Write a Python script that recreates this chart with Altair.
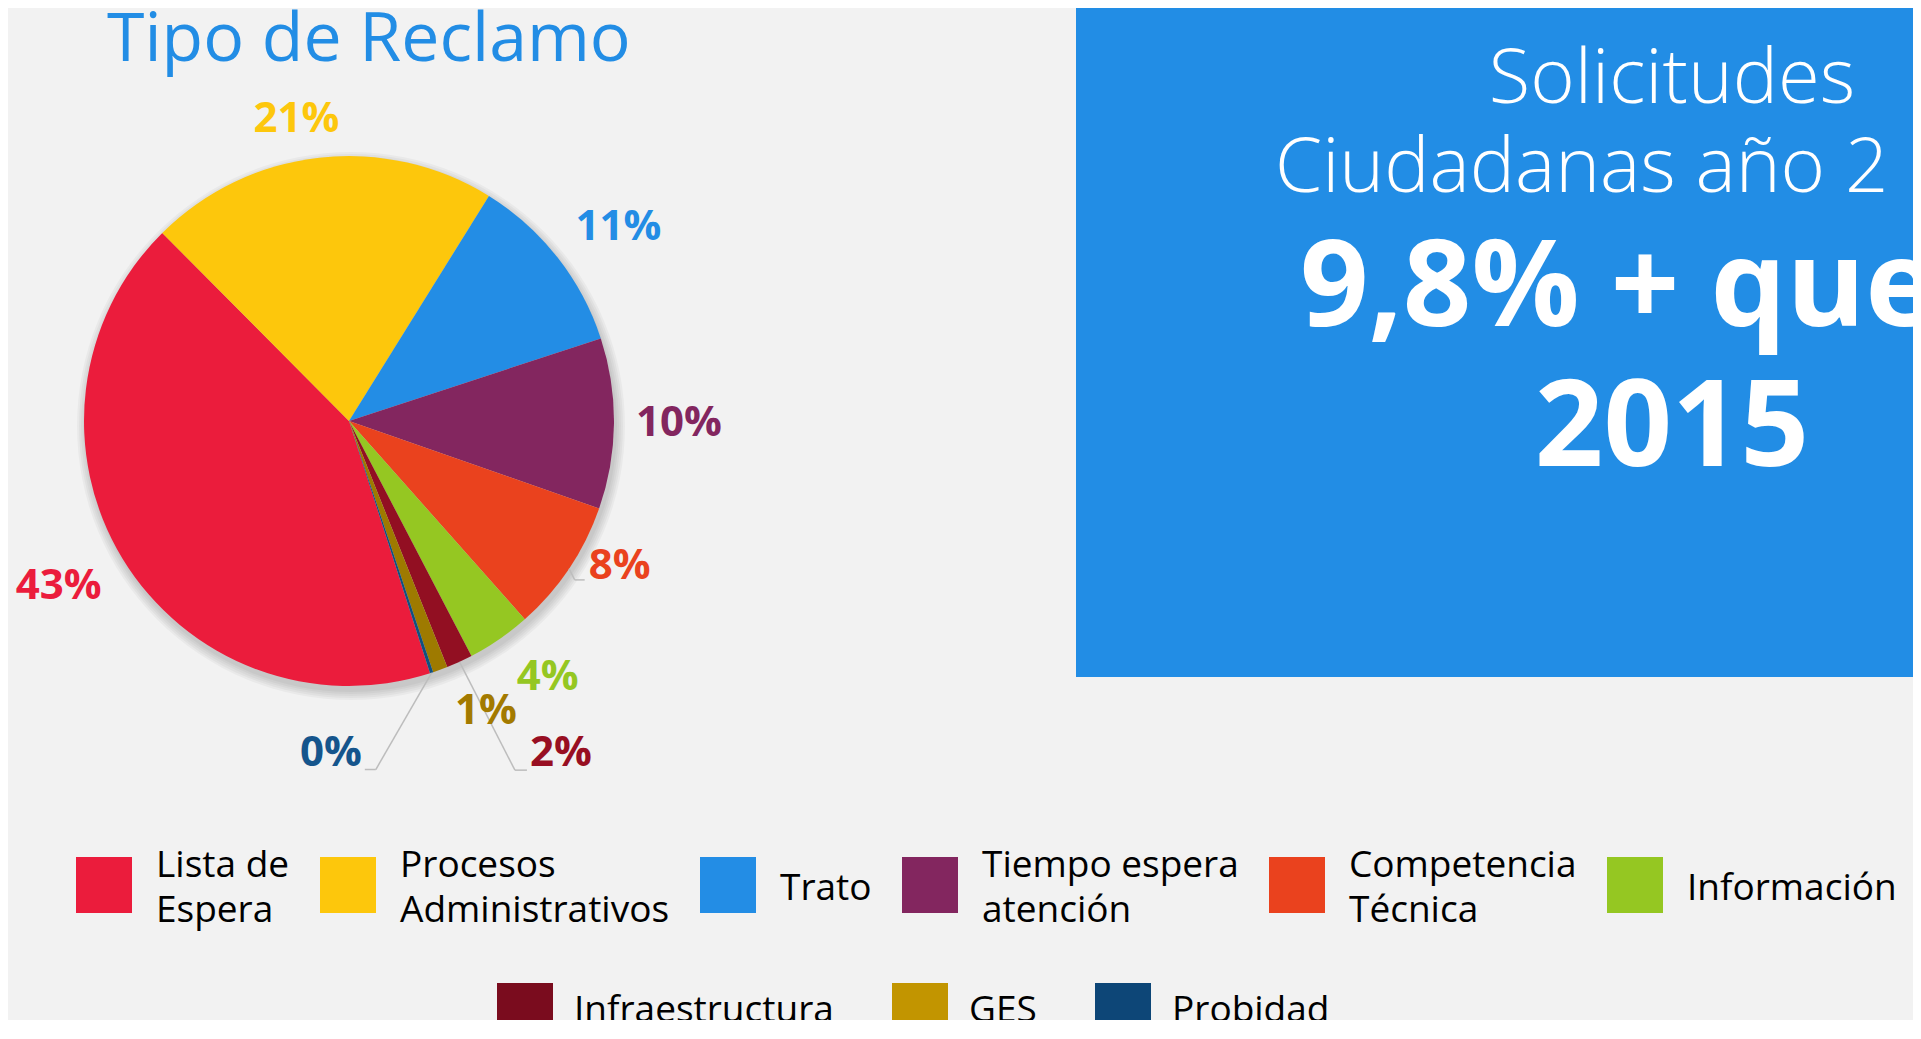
import json
import math
import altair as alt
import pandas as pd

# ---------------- data ----------------
CATEGORIES = [
    "Lista de Espera", "Procesos Administrativos", "Trato", "Tiempo espera atención",
    "Competencia Técnica", "Información", "Infraestructura", "GES", "Probidad",
]
VALUES = [42.5, 21.3, 11.1, 10.4, 8.1, 3.9, 1.6, 0.9, 0.2]
TITLE = "Tipo de Reclamo"
BOX_LINES = ["Solicitudes", "Ciudadanas año 2", "9,8% + que", "2015"]

# ---------------- styles ----------------
PIE_COLORS = ["#EB1C3C", "#FDC70C", "#238DE5", "#83265F", "#EA421E",
              "#95C722", "#920F22", "#9E7A00", "#11507F"]
LEGEND_COLORS = ["#EB1C3C", "#FDC70C", "#238DE5", "#83265F", "#EA421E",
                 "#95C722", "#7A0C1E", "#C29500", "#0D4677"]
LABEL_COLORS = ["#EB1C3C", "#FDC70C", "#238DE5", "#83265F", "#EA421E",
                "#95C722", "#980F22", "#A37A00", "#15558C"]
BG = "#F2F2F2"
BLUE = "#228DE5"
FONT = "Open Sans"

# ---------------- layout ----------------
W, H = 1905, 1012
CX, CY, R = 341, 413, 265
START_DEG = 162.2
LABEL_RADIUS = [334, 307, 332, 330, 307, 324, 394, 321, 332]
LABEL_SHIFT_DEG = [1.7, -3.4, 2.4, -0.2, -5.7, -3.3, -7.9, -5.1, 21.3]
# leader: (elbow dx, elbow dy, end dx) relative to label centre
LEADERS = {"Competencia Técnica": (-45, 14, -35),
           "Infraestructura": (-46, 17, -34),
           "Probidad": (45, 17, 34)}
# legend label wrapping on a half-line grid: blank (braille blank, non-whitespace) spacer lines
BLANK = "\u2800"
LEGEND_WRAP = {"Lista de Espera": ["Lista de", BLANK, "Espera"],
               "Procesos Administrativos": ["Procesos", BLANK, "Administrativos"],
               "Tiempo espera atención": ["Tiempo espera", BLANK, "atención"],
               "Competencia Técnica": ["Competencia", BLANK, "Técnica"]}
HALF_LINE = 22.5
SHADOW_RADII = [266, 268, 270, 272, 274]

start_rad = math.radians(START_DEG)
theta_scale = alt.Scale(domain=[0, 100], range=[start_rad, start_rad + 2 * math.pi])

df = pd.DataFrame({
    "category": CATEGORIES,
    "value": VALUES,
    "idx": list(range(len(CATEGORIES))),
    "label_r": LABEL_RADIUS,
    "shift_pct": [s / 3.6 for s in LABEL_SHIFT_DEG],
    "label_color": LABEL_COLORS,
})

# leader line segments derived from slice mid angles
segs = []
cum = 0.0
for cat, v, lr, sh in zip(CATEGORIES, VALUES, LABEL_RADIUS, LABEL_SHIFT_DEG):
    mid = START_DEG + 3.6 * (cum + v / 2)
    cum += v
    if cat not in LEADERS:
        continue
    a = math.radians(mid)
    sx, sy = CX + R * math.sin(a), CY - R * math.cos(a)
    b = math.radians(mid + sh)
    lx, ly = CX + lr * math.sin(b), CY - lr * math.cos(b)
    edx, edy, endx = LEADERS[cat]
    ex, ey = lx + edx, ly + edy
    segs.append({"x": sx, "y": sy, "x2": ex, "y2": ey})
    segs.append({"x": ex, "y": ey, "x2": lx + endx, "y2": ey})
seg_df = pd.DataFrame(segs)

one = pd.DataFrame({"k": [0]})

box = alt.Chart(one).mark_rect(color=BLUE).encode(
    x=alt.value(1068), x2=alt.value(W), y=alt.value(0), y2=alt.value(669))

title = alt.Chart(pd.DataFrame({"t": [TITLE]})).mark_text(
    font=FONT, fontSize=68, color=BLUE, align="left", baseline="alphabetic"
).encode(text="t:N", x=alt.value(99), y=alt.value(53))

box_text = [
    alt.Chart(pd.DataFrame({"t": [BOX_LINES[0]]})).mark_text(
        font=FONT, fontSize=76, fontWeight=300, color="white", align="center", baseline="alphabetic"
    ).encode(text="t:N", x=alt.value(1664), y=alt.value(95)),
    alt.Chart(pd.DataFrame({"t": [BOX_LINES[1]]})).mark_text(
        font=FONT, fontSize=76, fontWeight=300, color="white", align="left", baseline="alphabetic"
    ).encode(text="t:N", x=alt.value(1267), y=alt.value(184)),
    alt.Chart(pd.DataFrame({"t": [BOX_LINES[2]]})).mark_text(
        font=FONT, fontSize=120, fontWeight="bold", color="white", align="left", baseline="alphabetic"
    ).encode(text="t:N", x=alt.value(1292), y=alt.value(318)),
    alt.Chart(pd.DataFrame({"t": [BOX_LINES[3]]})).mark_text(
        font=FONT, fontSize=120, fontWeight="bold", color="white", align="center", baseline="alphabetic"
    ).encode(text="t:N", x=alt.value(1664), y=alt.value(458)),
]

shadows = [
    alt.Chart(one).mark_arc(
        theta=0, theta2=2 * math.pi, radius=r, color="black", opacity=0.035
    ).encode(x=alt.value(CX + 2), y=alt.value(CY + 5))
    for r in SHADOW_RADII
]

pie = alt.Chart(df).mark_arc(radius=R).encode(
    x=alt.value(CX), y=alt.value(CY),
    theta=alt.Theta("value:Q", stack=True, scale=theta_scale),
    order=alt.Order("idx:Q"),
    color=alt.Color("category:N", scale=alt.Scale(domain=CATEGORIES, range=PIE_COLORS), legend=None),
)

leaders = alt.Chart(seg_df).mark_rule(color="#BDBDBD", strokeWidth=1.5).encode(
    x=alt.X("x:Q", scale=None), y=alt.Y("y:Q", scale=None),
    x2="x2:Q", y2="y2:Q")

labels = alt.Chart(df).transform_window(
    cum="sum(value)", sort=[alt.SortField("idx")], frame=[None, 0]
).transform_calculate(
    lab_theta="datum.cum - datum.value / 2 + datum.shift_pct",
    lab_text="format(datum.value, '.0f') + '%'",
).mark_text(font=FONT, fontSize=42, fontWeight="bold", align="center", baseline="middle").encode(
    x=alt.value(CX), y=alt.value(CY),
    theta=alt.Theta("lab_theta:Q", scale=theta_scale),
    radius=alt.Radius("label_r:Q", scale=None),
    text="lab_text:N",
    color=alt.Color("label_color:N", scale=None),
)

B = json.dumps(BLANK, ensure_ascii=False)


def wrap_expr(cats):
    parts = []
    for c in cats:
        if c in LEGEND_WRAP:
            parts.append(f"datum.label == {json.dumps(c, ensure_ascii=False)} ? "
                         f"{json.dumps(LEGEND_WRAP[c], ensure_ascii=False)}")
    if not parts:
        return "datum.label"
    # single-line labels sit on the middle line of the same three-line grid
    return " : ".join(parts) + f" : [{B}, datum.label, {B}]"


def legend_layer(cats, colors, lx, ly, col_pad, lab_off, baseline):
    sub = df[df["category"].isin(cats)]
    return alt.Chart(sub).mark_square(size=10, filled=True).encode(
        x=alt.value(-300), y=alt.value(-300),
        color=alt.Color(
            "category:N",
            scale=alt.Scale(domain=cats, range=colors),
            legend=alt.Legend(
                orient="none", legendX=lx, legendY=ly, direction="horizontal", title=None,
                symbolType="square", symbolSize=3136, symbolStrokeWidth=0, symbolOpacity=1,
                labelFont=FONT, labelFontSize=37, labelColor="#000000", labelOffset=lab_off,
                columnPadding=col_pad, labelLimit=700, labelExpr=wrap_expr(cats),
                labelBaseline=baseline,
            ),
        ),
    )


leg1 = legend_layer(CATEGORIES[:6], LEGEND_COLORS[:6], 68, 849, 30, 24, "bottom")
leg2 = legend_layer(CATEGORIES[6:], LEGEND_COLORS[6:], 489, 975, 58, 21, "middle")

chart = alt.layer(
    box, title, *box_text, *shadows, pie, leaders, labels, leg1, leg2
).resolve_scale(color="independent").properties(
    width=W, height=H, autosize="none", padding=0, background=BG
).configure(
    style={"guide-label": {"lineHeight": HALF_LINE}}
).configure_view(stroke=None)

chart.save("out.html", embed_options={"renderer": "svg", "actions": False})
